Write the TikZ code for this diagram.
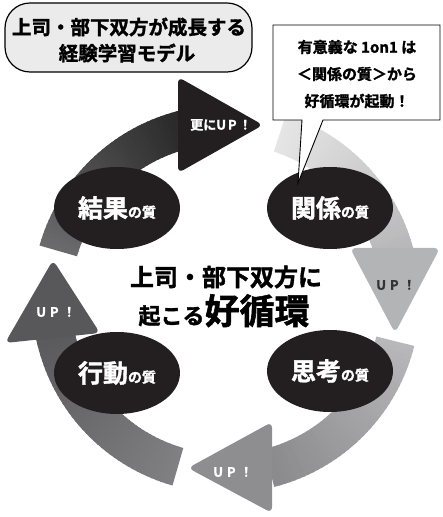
\documentclass[tikz,border=0pt]{standalone}
\usepackage{fontspec}
\setmainfont{Noto Sans CJK JP}[BoldFont={Noto Sans CJK JP Bold}, BoldFeatures={FakeBold=1.6}]
\usetikzlibrary{shapes.geometric}
\definecolor{ink}{HTML}{231F20}
\definecolor{topA}{HTML}{6B6B6D}
\definecolor{topB}{HTML}{262626}
\definecolor{rA}{HTML}{E6E6E6}
\definecolor{rB}{HTML}{B6B6B8}
\definecolor{rhead}{HTML}{B3B4B6}
\definecolor{bA}{HTML}{B8B8BA}
\definecolor{bB}{HTML}{8A8A8C}
\definecolor{bhead}{HTML}{8E8E90}
\definecolor{lA}{HTML}{808082}
\definecolor{lB}{HTML}{59595B}
\definecolor{lhead}{HTML}{58585A}
\definecolor{titlefill}{HTML}{EBEBEB}
\definecolor{updark}{HTML}{333333}
\newcommand\myband[4]{%
  \foreach \i in {1,...,40}{%
    \pgfmathsetmacro\aa{#1+(#2-#1)*(\i-1)/40}%
    \pgfmathsetmacro\ab{#1+(#2-#1)*(\i+0.4)/40}%
    \pgfmathtruncatemacro\pc{100*(\i-0.5)/40}%
    \fill[#4!\pc!#3] ([shift={(\aa:155)}]C) arc[start angle=\aa, end angle=\ab, radius=155]
      -- ([shift={(\ab:194)}]C) arc[start angle=\ab, end angle=\aa, radius=194] -- cycle;
  }}
\newcommand\myhead[4]{%
  \draw[white, line width=10pt, line join=round, rounded corners=6pt] #1 -- #2 -- #3;
  \fill[#4, rounded corners=6pt] #1 -- #2 -- #3 -- cycle;}
\tikzset{
  ell/.style={ellipse, fill=ink, text=white, minimum width=126pt, minimum height=82pt, inner sep=0pt, font=\bfseries},
  uplabel/.style={font=\bfseries\fontsize{13}{13}\selectfont, inner sep=0pt},
}
\newcommand\bigq[1]{{\fontsize{25}{25}\selectfont #1}}
\newcommand\smallq{{\fontsize{14}{14}\selectfont の質}}
\begin{document}
\begin{tikzpicture}[x=1pt,y=1pt]
\useasboundingbox (0,0) rectangle (442,517);
\coordinate (C) at (226,218);
% bands
\myband{164}{102}{topA}{topB}
\myband{72}{14}{rA}{rB}
\myband{-14}{-75}{bA}{bB}
\myband{254}{191}{lA}{lB}
% heads
\myhead{(178,440)}{(263,392)}{(178,344)}{ink}
\myhead{(350,269)}{(395,184)}{(440,269)}{rhead}
\myhead{(272,95)}{(188,49)}{(272,4)}{bhead}
\myhead{(5,174)}{(53,257)}{(100,184)}{lhead}
% head labels
\node[uplabel, text=white] (up1) at (221,392) {更にU\hspace{2pt}P\hspace{2pt}！};
\node[uplabel, text=updark] (up2) at (396,232) {U\hspace{4pt}P\hspace{4pt}！};
\node[uplabel, text=white] (up3) at (233,45) {U\hspace{4pt}P\hspace{4pt}！};
\node[uplabel, text=white] (up4) at (56,205) {U\hspace{4pt}P\hspace{4pt}！};
% quality ellipses
\node[ell] (kekka) at (117,309) {\bigq{結果}\smallq};
\node[ell] (kankei) at (330,309) {\bigq{関係}\smallq};
\node[ell] (koudou) at (117,144) {\bigq{行動}\smallq};
\node[ell] (shikou) at (330,146) {\bigq{思考}\smallq};
% centre text
\node[font=\bfseries\fontsize{24}{24}\selectfont, inner sep=0pt] (c1) at (226,240) {上司・部下双方に};
\node[font=\bfseries, inner sep=0pt, anchor=base] (c2) at (224,193) {{\fontsize{22}{22}\selectfont 起こる}{\fontsize{35}{35}\selectfont 好循環}};
% title
\draw[fill=titlefill, line width=1.2pt, rounded corners=25pt] (5,445) rectangle (252,514);
\node[font=\bfseries\fontsize{19.5}{19.5}\selectfont, inner sep=0pt] (t1) at (129,490) {上司・部下双方が成長する};
\node[font=\bfseries\fontsize{19.5}{19.5}\selectfont, inner sep=0pt] (t2) at (127,464) {経験学習モデル};
% callout
\coordinate (tip) at (298,334);
\draw[fill=white, line width=0.9pt, line join=miter] (302,397) -- (273,397) -- (273,492) -- (440,492) -- (440,397) -- (323,397) -- (tip) -- cycle;
\node[font=\bfseries\fontsize{15}{15}\selectfont, inner sep=0pt] (b1) at (357,470) {有意義な 1on1 は};
\node[font=\bfseries\fontsize{15}{15}\selectfont, inner sep=0pt] (b2) at (357,443) {＜関係の質＞から};
\node[font=\bfseries\fontsize{15}{15}\selectfont, inner sep=0pt] (b3) at (357,416) {好循環が起動！};
\end{tikzpicture}
\end{document}
